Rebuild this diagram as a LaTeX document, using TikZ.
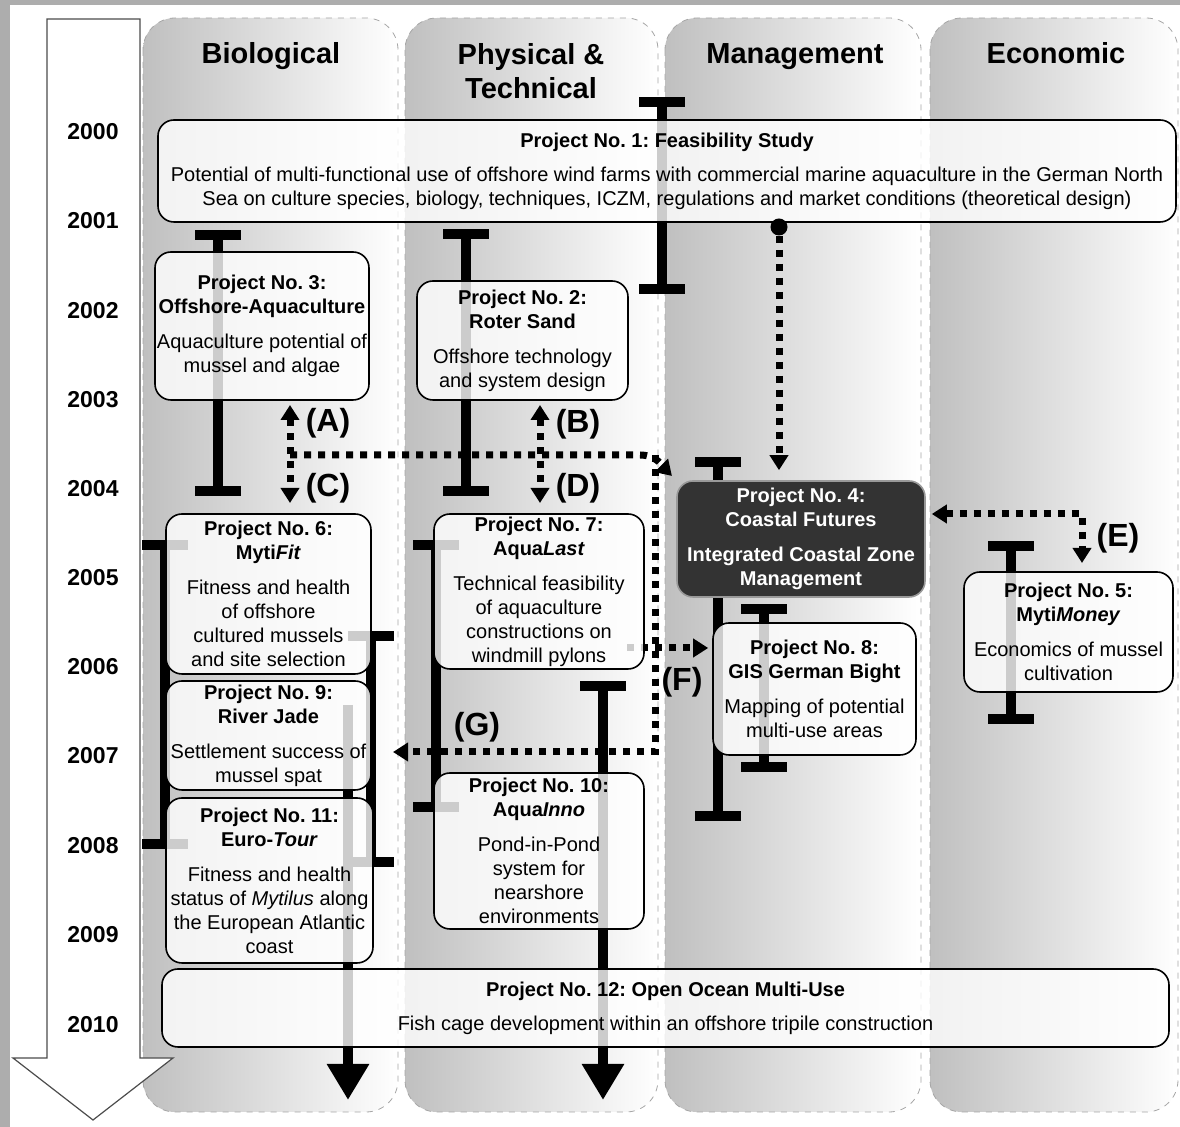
\documentclass[tikz,border=0pt]{standalone}
\usepackage{fontspec}
\setmainfont{Liberation Sans}
\usetikzlibrary{arrows.meta,backgrounds}
\pgfdeclarelayer{back}
\pgfdeclarelayer{mid}
\pgfsetlayers{back,mid,main}
\frenchspacing

\begin{document}
\begin{tikzpicture}[
    x=0.5pt, y=-0.5pt,
    every node/.style={inner sep=0pt},
    box/.style={draw, line width=0.8pt, rounded corners=8pt, fill=white, fill opacity=0.8, text opacity=1, align=center, font=\fontsize{10}{12}\selectfont},
    dark/.style={box, fill=black!80, fill opacity=1, draw=black!40, text=white},
    year/.style={font=\fontsize{11.5}{14}\selectfont\bfseries},
    head/.style={font=\fontsize{14.5}{17}\selectfont\bfseries, align=center},
    lab/.style={font=\fontsize{16}{18}\selectfont\bfseries},
    lane/.style={left color=black!25, right color=white, draw=black!35, dashed, rounded corners=16pt},
    bar/.style={line width=5pt, {Rectangle[length=5pt,width=23pt]}-{Rectangle[length=5pt,width=23pt]}},
    runbar/.style={line width=5pt, -{Triangle[length=18pt,width=20pt]}},
    link/.style={line width=3.5pt, dash pattern=on 3.5pt off 3.5pt, -{Triangle[length=7.5pt,width=9pt]}},
    both/.style={{Triangle[length=7.5pt,width=9pt]}-{Triangle[length=7.5pt,width=9pt]}}
]
\useasboundingbox (0,0) rectangle (1180,1127);

% Lanes and time axis
\begin{pgfonlayer}{back}
\fill[black!32] (0,0) rectangle (1180,1127);
\fill[white] (10,5) rectangle (1180,1127);
\path[lane] (143,18) rectangle (398,1112);
\path[lane] (405,18) rectangle (658,1112);
\path[lane] (665,18) rectangle (921,1112);
\path[lane] (930,18) rectangle (1178,1112);
\draw[black!70, fill=white, line width=0.6pt] (47,19) -- (140,19) -- (140,1058) -- (173,1058) -- (93,1120) -- (13,1058) -- (47,1058) -- cycle;
\end{pgfonlayer}

% Headings
\node (hbio) [head, anchor=base] at (271,64) {Biological};
\node (htech) [head] at (531,71) {Physical \&\\Technical};
\node (hman) [head, anchor=base] at (795,64) {Management};
\node (heco) [head, anchor=base] at (1056,64) {Economic};

% Years
\node (y00) [year] at (93,132) {2000};
\node (y01) [year] at (93,221) {2001};
\node (y02) [year] at (93,311) {2002};
\node (y03) [year] at (93,400) {2003};
\node (y04) [year] at (93,489) {2004};
\node (y05) [year] at (93,578) {2005};
\node (y06) [year] at (93,667) {2006};
\node (y07) [year] at (93,756) {2007};
\node (y08) [year] at (93,846) {2008};
\node (y09) [year] at (93,935) {2009};
\node (y10) [year] at (93,1025) {2010};

% Projects
\node (p1) [box, minimum width=509pt, minimum height=51pt] at (667,171)
    {\textbf{Project No. 1: Feasibility Study}\\[5pt]
     Potential of multi-functional use of offshore wind farms with commercial marine aquaculture in the German North\\
     Sea on culture species, biology, techniques, ICZM, regulations and market conditions (theoretical design)};
\node (p2) [box, minimum width=105.5pt, minimum height=59.5pt] at (522.5,340.5)
    {\textbf{Project No. 2:}\\\textbf{Roter Sand}\\[5.5pt]Offshore technology\\and system design};
\node (p3) [box, minimum width=107pt, minimum height=74pt] at (262,326)
    {\textbf{Project No. 3:}\\\textbf{Offshore-Aquaculture}\\[5.5pt]Aquaculture potential of\\mussel and algae};
\node (p4) [dark, minimum width=124pt, minimum height=58pt] at (801,539)
    {\textbf{Project No. 4:}\\\textbf{Coastal Futures}\\[5.5pt]\textbf{Integrated Coastal Zone}\\\textbf{Management}};
\node (p5) [box, minimum width=104.5pt, minimum height=60pt] at (1068.5,632)
    {\textbf{Project No. 5:}\\\textbf{Myti\textit{Money}}\\[5.5pt]Economics of mussel\\cultivation};
\node (p6) [box, minimum width=102.5pt, minimum height=80pt] at (268.5,594)
    {\textbf{Project No. 6:}\\\textbf{Myti\textit{Fit}}\\[5.5pt]Fitness and health\\of offshore\\cultured mussels\\and site selection};
\node (p7) [box, minimum width=105pt, minimum height=77.5pt] at (539,591.5)
    {\textbf{Project No. 7:}\\\textbf{Aqua\textit{Last}}\\[5.5pt]Technical feasibility\\of aquaculture\\constructions on\\windmill pylons};
\node (p8) [box, minimum width=101.5pt, minimum height=66pt] at (814.5,689)
    {\textbf{Project No. 8:}\\\textbf{GIS German Bight}\\[5.5pt]Mapping of potential\\multi-use areas};
\node (p9) [box, minimum width=102.5pt, minimum height=54.5pt] at (268.5,735.5)
    {\textbf{Project No. 9:}\\\textbf{River Jade}\\[5.5pt]Settlement success of\\mussel spat};
\node (p10) [box, minimum width=105pt, minimum height=78pt] at (539,851)
    {\textbf{Project No. 10:}\\\textbf{Aqua\textit{Inno}}\\[5.5pt]Pond-in-Pond\\system for\\nearshore\\environments};
\node (p11) [box, minimum width=103.5pt, minimum height=82.5pt] at (269.5,880.5)
    {\textbf{Project No. 11:}\\\textbf{Euro-\textit{Tour}}\\[5.5pt]Fitness and health\\status of \textit{Mytilus} along\\the European Atlantic\\coast};
\node (p12) [box, minimum width=503.5pt, minimum height=39pt] at (665.5,1008)
    {\textbf{Project No. 12: Open Ocean Multi-Use}\\[5pt]
     Fish cage development within an offshore tripile construction};

% Labels
\node (la) [lab] at (328,423) {(A)};
\node (lb) [lab] at (578,424) {(B)};
\node (lc) [lab] at (328,488) {(C)};
\node (ld) [lab] at (578,488) {(D)};
\node (le) [lab] at (1118,538) {(E)};
\node (lf) [lab] at (682,682) {(F)};
\node (lg) [lab] at (477,727) {(G)};
\node (d1) [circle, fill, minimum size=8.5pt] at (779,227) {};

\begin{pgfonlayer}{mid}
% Duration bars
\draw[bar] (662,97) -- (662,294);
\draw[bar] (218,230) -- (218,496);
\draw[bar] (466,229) -- (466,496);
\draw[bar] (718,457) -- (718,821);
\draw[bar] (764,604) -- (764,772);
\draw[bar] (1011,541) -- (1011,724);
\draw[bar] (165,540) -- (165,849);
\draw[bar] (371,631) -- (371,867);
\draw[bar] (436,540) -- (436,812);
\draw[runbar, {Rectangle[length=5pt,width=23pt]}-{Triangle[length=18pt,width=20pt]}] (603,681) -- (603,1100);
\draw[runbar] (348,705) -- (348,1100);

% Edges
\coordinate (a1) at (290,405);
\coordinate (c1) at (290,503);
\coordinate (b1) at (540,405);
\coordinate (d2) at (540,503);
\coordinate (h0) at (290,455);
\coordinate (h1) at (655,455);
\coordinate (g1) at (655,752);
\coordinate (g2) at (393,752);
\coordinate (f1) at (627,648);
\coordinate (e0) at (1082,514);
\coordinate (e1) at (1082,563);

\draw[link, shorten >=5pt] (d1) -- (d1 |- p4.north);
\draw[link, both] (a1) -- (c1);
\draw[link, both] (b1) -- (d2);
\draw[link, shorten >=3pt] (h0) -- (640,455) to[out=0, in=135] (p4.north west);
\draw[link] (h1) -- (g1) -- (g2);
\draw[link, shorten >=2pt] (f1) -- (p8.west |- f1);
\draw[link, both, shorten <=3pt] (p4.east |- e0) -- (e0) -- (e1);
\end{pgfonlayer}

\end{tikzpicture}
\end{document}
